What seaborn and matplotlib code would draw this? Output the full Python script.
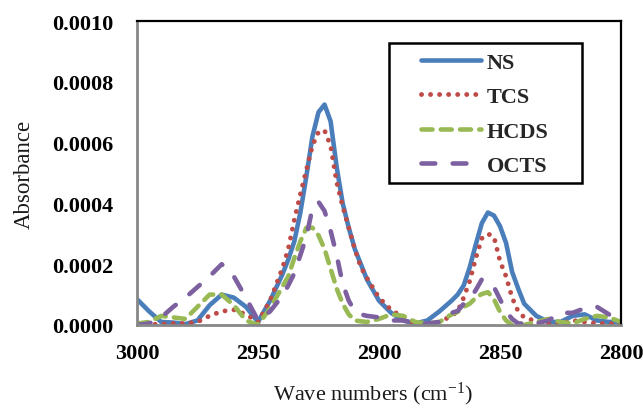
import numpy as np
import pandas as pd
import matplotlib
matplotlib.use("Agg")
import matplotlib.pyplot as plt
from matplotlib.patches import Rectangle
import seaborn as sns
from matplotlib.ticker import FormatStrFormatter

# Wave numbers (cm-1)
wavenumber = [3000, 2995, 2990, 2985, 2980, 2975, 2970, 2965, 2960, 2955, 2950,
              2945, 2940, 2937.5, 2935, 2932.5, 2930, 2927.5, 2925, 2922.5, 2920,
              2917.5, 2915, 2912.5, 2910, 2907.5, 2905, 2900, 2895, 2890, 2885,
              2880, 2875, 2870, 2867.5, 2865, 2862.5, 2860, 2857.5, 2855, 2852.5,
              2850, 2847.5, 2845, 2842.5, 2840, 2835, 2830, 2825, 2820, 2815,
              2810, 2805, 2800]

# Absorbance of each film, in units of 1e-4
ns = [0.85, 0.45, 0.10, 0.08, 0.03, 0.15, 0.65, 1.00, 0.90, 0.60, 0.10,
      0.80, 1.65, 2.15, 2.75, 3.70, 4.90, 6.20, 7.00, 7.25, 6.70,
      5.20, 4.00, 3.20, 2.50, 2.00, 1.50, 0.80, 0.40, 0.15, 0.05,
      0.15, 0.45, 0.80, 1.00, 1.30, 1.90, 2.65, 3.35, 3.70, 3.60,
      3.25, 2.70, 1.75, 1.20, 0.70, 0.30, 0.10, 0.10, 0.30, 0.35,
      0.15, 0.10, 0.10]
tcs = [0.02, 0.02, 0.03, 0.05, 0.05, 0.10, 0.30, 0.45, 0.50, 0.35, 0.10,
       0.80, 1.85, 2.50, 3.45, 4.30, 5.10, 5.90, 6.35, 6.40, 5.90,
       4.70, 3.90, 3.20, 2.50, 1.90, 1.55, 0.90, 0.50, 0.25, 0.05,
       0.02, 0.10, 0.30, 0.45, 0.90, 1.45, 2.20, 2.85, 3.00, 2.90,
       2.10, 1.60, 0.90, 0.45, 0.25, 0.12, 0.05, 0.05, 0.15, 0.10,
       0.05, 0.05, 0.02]
hcds = [0.05, 0.10, 0.30, 0.25, 0.20, 0.60, 1.00, 1.00, 0.65, 0.15, 0.00,
        0.55, 1.25, 1.60, 2.20, 2.75, 3.20, 3.20, 2.95, 2.50, 1.85,
        1.20, 0.70, 0.35, 0.15, 0.12, 0.10, 0.20, 0.35, 0.30, 0.10,
        0.05, 0.10, 0.35, 0.43, 0.60, 0.70, 0.90, 1.02, 1.08, 0.85,
        0.43, 0.15, 0.00, 0.00, 0.00, 0.10, 0.20, 0.10, 0.05, 0.20,
        0.30, 0.25, 0.10]
octs = [0.00, 0.05, 0.25, 0.60, 0.90, 1.25, 1.60, 2.00, 1.60, 0.90, 0.15,
        0.45, 0.95, 1.30, 1.70, 2.30, 2.90, 3.85, 4.05, 3.75, 3.10,
        2.30, 1.35, 0.80, 0.45, 0.35, 0.30, 0.25, 0.15, 0.15, 0.05,
        0.05, 0.10, 0.40, 0.46, 0.70, 0.85, 1.15, 1.50, 1.40, 1.25,
        0.85, 0.45, 0.20, 0.05, 0.05, 0.05, 0.15, 0.40, 0.40, 0.55,
        0.60, 0.35, 0.10]

labels = ["NS", "TCS", "HCDS", "OCTS"]
series = [ns, tcs, hcds, octs]
colors = ["#4a7ebb", "#be4b48", "#98b954", "#7d60a0"]
widths = [3.3, 3.5, 3.3, 3.3]
dash_styles = ["-", (0, (0.01, 1.85)), (0, (2.4, 1.8)), (0, (3.0, 3.8))]

x_ticks = [3000, 2950, 2900, 2850, 2800]
y_ticks = [0.0000, 0.0002, 0.0004, 0.0006, 0.0008, 0.0010]

sns.set_theme(style="white")
plt.rcParams["font.family"] = ["Liberation Serif", "DejaVu Serif"]
plt.rcParams["mathtext.fontset"] = "custom"
plt.rcParams["mathtext.rm"] = "Liberation Serif"
plt.rcParams["mathtext.it"] = "Liberation Serif:italic"

fig = plt.figure(figsize=(6.43, 4.10), dpi=100)
ax = fig.add_axes([137 / 643, 84 / 410, 484 / 643, 304 / 410])

for label, values, color, lw, ls in zip(labels, series, colors, widths, dash_styles):
    df = pd.DataFrame({"wavenumber": wavenumber,
                       "absorbance": np.array(values) * 1e-4})
    sns.lineplot(data=df, x="wavenumber", y="absorbance", ax=ax, sort=False,
                 errorbar=None, color=color, linestyle=ls, linewidth=lw,
                 dash_capstyle="round", solid_capstyle="round",
                 solid_joinstyle="round", label=label)

ax.set_xlim(3000, 2800)
ax.set_ylim(0, 0.0010)
ax.set_xticks(x_ticks)
ax.set_yticks(y_ticks)
ax.yaxis.set_major_formatter(FormatStrFormatter("%.4f"))
ax.tick_params(axis="both", length=0, labelsize=16, labelcolor="black")
ax.tick_params(axis="y", pad=17)
ax.tick_params(axis="x", pad=13)
for lab in ax.get_xticklabels() + ax.get_yticklabels():
    lab.set_fontweight("bold")

for side in ("left", "bottom"):
    ax.spines[side].set_color("#878787")
    ax.spines[side].set_linewidth(2.0)
for side in ("top", "right"):
    ax.spines[side].set_color("black")
    ax.spines[side].set_linewidth(1.6)

ax.set_xlabel("Wave numbers (cm$^{-1}$)", fontsize=16, color="#1a1a1a")
ax.set_ylabel("Absorbance", fontsize=16.5, color="#1a1a1a")
ax.xaxis.set_label_coords(0.487, -0.18)
ax.yaxis.set_label_coords(-0.212, 0.5)

# Legend entries without their own frame; the box is drawn separately
leg = ax.legend(loc="upper left", bbox_to_anchor=(421 / 643, 1 - 53 / 410),
                bbox_transform=fig.transFigure, borderaxespad=0, borderpad=0,
                frameon=False, handlelength=2.7, handletextpad=0.25,
                labelspacing=0.63,
                prop={"family": "Liberation Serif", "weight": "bold", "size": 16})
fig.add_artist(Rectangle((389 / 643, 1 - 184 / 410), 193 / 643, 140 / 410,
                         transform=fig.transFigure, fill=False,
                         edgecolor="black", linewidth=1.8))

fig.savefig("out.png", dpi=100, facecolor="white")
